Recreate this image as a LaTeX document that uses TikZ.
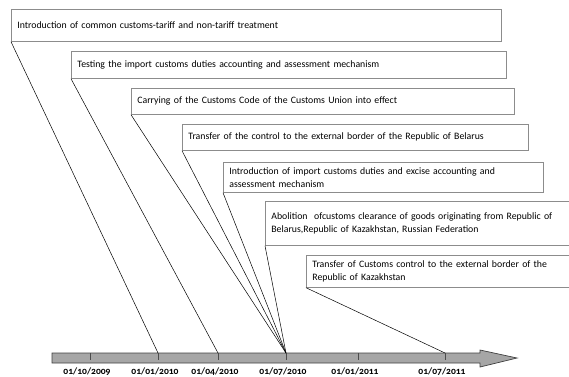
\documentclass[tikz,border=0pt]{standalone}
\usepackage{fontspec}
\setmainfont{Carlito}
\newfontfamily\datefont[Numbers=OldStyle]{Carlito}
\usepackage{tikz}
\usetikzlibrary{arrows.meta, positioning}

\begin{document}
\begin{tikzpicture}[
    x=1pt, y=-1pt,
    event/.style={rectangle, draw=black!45, line width=0.7pt, anchor=north west,
                  inner xsep=6pt, inner ysep=2pt, align=left, font=\fontsize{9.8}{13}\selectfont},
    link/.style={black, line width=0.5pt},
    tick/.style={black!70, line width=0.6pt},
    date/.style={font=\datefont\bfseries\fontsize{9.6}{11}\selectfont, anchor=north}
]
\useasboundingbox (0,0) rectangle (569,376);

\node[event, text width=478pt, minimum height=32pt] (e1) at (11,9)
    {Introduction of common customs-tariff and non-tariff treatment};
\node[event, text width=423pt, minimum height=27pt] (e2) at (71,51)
    {Testing the import customs duties accounting and assessment mechanism};
\node[event, text width=371pt, minimum height=26pt] (e3) at (131,88)
    {Carrying of the Customs Code of the Customs Union into effect};
\node[event, text width=334pt, minimum height=26pt] (e4) at (182,124)
    {Transfer of the control to the external border of the Republic of Belarus};
\node[event, text width=308pt, minimum height=30pt] (e5) at (223,162)
    {Introduction of import customs duties and excise accounting and\\assessment mechanism};
\node[event, text width=330pt, minimum height=44pt] (e6) at (265,201)
    {Abolition~ ofcustoms clearance of goods originating from Republic of\\Belarus,Republic of Kazakhstan, Russian Federation};
\node[event, text width=300pt, minimum height=32pt] (e7) at (306,255)
    {Transfer of Customs control to the external border of the\\Republic of Kazakhstan};

% time axis
\draw[black!75, fill=black!35, line width=0.7pt]
    (52,353) -- (480,353) -- (480,350) -- (517,358) -- (480,367) -- (480,363) -- (52,363) -- cycle;

\foreach \x/\name/\txt in {90/d1/{01/10/2009}, 158/d2/{01/01/2010}, 218/d3/{01/04/2010},
                            286/d4/{01/07/2010}, 358/d5/{01/01/2011}, 445/d6/{01/07/2011}} {
    \coordinate (\name) at (\x,353);
    \draw[tick] (\name) -- ++(0,7);
    \node[date] (\name l) at (\x-3,364) {\txt};
}

\foreach \from/\to in {e1/d2, e2/d3, e3/d4, e4/d4, e5/d4, e6/d4, e7/d6}
    \draw[link] (\from.south west) -- (\to);
\end{tikzpicture}
\end{document}
